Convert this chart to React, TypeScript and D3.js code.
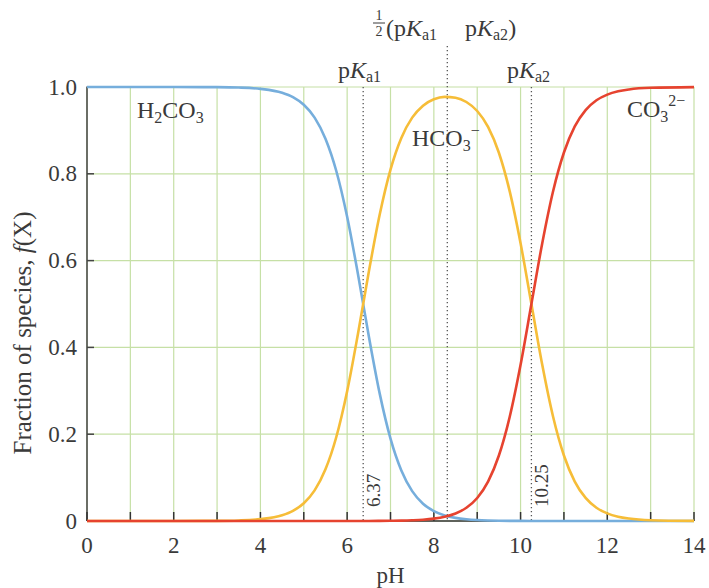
import React from "react";
import * as d3 from "d3";

const pH = [0,1,2,3,3.5,4,4.5,4.75,5,5.25,5.5,5.75,6,6.25,6.5,6.75,7,7.25,7.5,7.75,8,8.25,8.5,8.75,9,9.25,9.5,9.75,10,10.25,10.5,10.75,11,11.25,11.5,11.75,12,12.25,12.5,13,14];
const h2co3 = [1,1,1,0.9996,0.9987,0.9957,0.9867,0.9766,0.959,0.9295,0.881,0.8065,0.701,0.5686,0.4257,0.2941,0.1898,0.1164,0.0689,0.0399,0.0228,0.0129,0.0072,0.004,0.0022,0.0012,0.0006,0.0003,0.0002,0.0001,0,0,0,0,0,0,0,0,0,0,0];
const hco3 = [0,0,0,0.0004,0.0013,0.0043,0.0133,0.0234,0.041,0.0705,0.119,0.1935,0.299,0.4314,0.5742,0.7056,0.8097,0.8827,0.9294,0.957,0.9717,0.9773,0.9754,0.9654,0.9447,0.908,0.8485,0.7595,0.64,0.5,0.3599,0.2403,0.151,0.0909,0.0532,0.0306,0.0175,0.0099,0.0056,0.0018,0.0002];
const co3 = [0,0,0,0,0,0,0,0,0,0,0,0,0,0,0.0001,0.0002,0.0005,0.0009,0.0017,0.003,0.0055,0.0098,0.0173,0.0305,0.0531,0.0908,0.1509,0.2402,0.3599,0.5,0.64,0.7597,0.849,0.9091,0.9468,0.9694,0.9825,0.9901,0.9944,0.9982,0.9998];

const xTickLabels = [0, 2, 4, 6, 8, 10, 12, 14];
const xMinorTicks = d3.range(0, 15, 1);
const yTicks = [0, 0.2, 0.4, 0.6, 0.8, 1.0];
const yTickLabels = ["0", "0.2", "0.4", "0.6", "0.8", "1.0"];
const pKa1 = 6.37;
const pKa2 = 10.25;
const pKmid = 8.31;

const W = 709, H = 588;
const FONT = "'Liberation Serif', 'DejaVu Serif', serif";
const TEXT = "#3a3a3a";

export default function App() {
  const x = d3.scaleLinear().domain([0, 14]).range([87, 694]);
  const y = d3.scaleLinear().domain([0, 1]).range([521, 87]);
  const mk = (vals: number[]) =>
    d3.line<number>().x((_, i) => x(pH[i])).y((d) => y(d)).curve(d3.curveMonotoneX)(vals) || "";

  const grid = "#c6e0a6";
  const F = 24;
  const S = 16;
  return (
    <svg width={W} height={H} style={{ position: "absolute", left: 0, top: 0 }} fontFamily={FONT}>
      <rect width={W} height={H} fill="#fff" />
      {/* grid */}
      {xMinorTicks.map((t) => (
        <line key={"gx" + t} x1={x(t)} x2={x(t)} y1={y(0)} y2={y(1)} stroke={grid} strokeWidth={1.2} />
      ))}
      {yTicks.map((t) => (
        <line key={"gy" + t} x1={x(0)} x2={x(14)} y1={y(t)} y2={y(t)} stroke={grid} strokeWidth={1.2} />
      ))}
      {/* dotted reference lines */}
      {[pKa1, pKa2].map((p) => (
        <line key={"d" + p} x1={x(p)} x2={x(p)} y1={y(1)} y2={y(0)} stroke="#555" strokeWidth={1.3} strokeDasharray="1.3 2.7" />
      ))}
      <line x1={x(pKmid)} x2={x(pKmid)} y1={46} y2={y(0)} stroke="#555" strokeWidth={1.3} strokeDasharray="1.3 2.7" />
      {/* axes */}
      <line x1={x(0)} x2={x(0)} y1={y(1) - 0.5} y2={y(0)} stroke="#444" strokeWidth={1.5} />
      <line x1={x(0)} x2={x(14)} y1={y(0)} y2={y(0)} stroke="#333" strokeWidth={1.5} />
      {yTicks.map((t) => (
        <line key={"ty" + t} x1={x(0)} x2={x(0) + 7} y1={y(t)} y2={y(t)} stroke="#444" strokeWidth={1.5} />
      ))}
      {xMinorTicks.map((t) => (
        <line key={"tx" + t} x1={x(t)} x2={x(t)} y1={y(0)} y2={y(0) - 9} stroke="#333" strokeWidth={1.5} />
      ))}
      {/* curves */}
      <path d={mk(h2co3)} fill="none" stroke="#76aedc" strokeWidth={2.6} />
      <path d={mk(hco3)} fill="none" stroke="#f6bd38" strokeWidth={2.6} />
      <path d={mk(co3)} fill="none" stroke="#e6432f" strokeWidth={2.6} />
      {/* tick labels */}
      {yTicks.map((t, i) => (
        <text key={"yl" + t} x={77} y={y(t)} dy="0.33em" textAnchor="end" fontSize={23} fill={TEXT}>{yTickLabels[i]}</text>
      ))}
      {xTickLabels.map((t) => (
        <text key={"xl" + t} x={x(t)} y={545} dy="0.33em" textAnchor="middle" fontSize={23} fill={TEXT}>{t}</text>
      ))}
      <text x={x(7)} y={583} textAnchor="middle" fontSize={23} fill={TEXT}>pH</text>
      <text transform={`translate(31,333) rotate(-90)`} textAnchor="middle" fontSize={25} fill={TEXT}>
        Fraction of species, <tspan fontStyle="italic">f</tspan>(X)
      </text>
      {/* species labels */}
      <text x={137} y={118} fontSize={F} fill={TEXT}>
        H<tspan fontSize={S} dy={5}>2</tspan><tspan dy={-5}>CO</tspan><tspan fontSize={S} dy={5}>3</tspan>
      </text>
      <text x={412} y={146} fontSize={F} fill={TEXT}>
        HCO<tspan fontSize={S} dy={5}>3</tspan><tspan fontSize={S} dy={-15}>−</tspan>
      </text>
      <text x={627} y={117} fontSize={F} fill={TEXT}>
        CO<tspan fontSize={S} dy={5}>3</tspan><tspan fontSize={S} dy={-16}>2−</tspan>
      </text>
      {/* pKa labels */}
      <text x={338} y={78} fontSize={F} fill={TEXT}>
        p<tspan fontStyle="italic">K</tspan><tspan fontSize={S} dy={4}>a1</tspan>
      </text>
      <text x={507} y={78} fontSize={F} fill={TEXT}>
        p<tspan fontStyle="italic">K</tspan><tspan fontSize={S} dy={4}>a2</tspan>
      </text>
      <text x={379} y={20} fontSize={14} textAnchor="middle" fill={TEXT}>1</text>
      <line x1={373} x2={385} y1={23} y2={23} stroke={TEXT} strokeWidth={1} />
      <text x={379} y={36} fontSize={14} textAnchor="middle" fill={TEXT}>2</text>
      <text x={386} y={36} fontSize={F} fill={TEXT}>
        (p<tspan fontStyle="italic">K</tspan><tspan fontSize={S} dy={4}>a1</tspan>
      </text>
      <text x={465} y={36} fontSize={F} fill={TEXT}>
        p<tspan fontStyle="italic">K</tspan><tspan fontSize={S} dy={4}>a2</tspan><tspan dy={-4}>)</tspan>
      </text>
      {/* rotated value labels */}
      <text transform={`translate(${x(pKa1) + 17},507) rotate(-90)`} fontSize={19} fill={TEXT}>6.37</text>
      <text transform={`translate(${x(pKa2) + 17},507) rotate(-90)`} fontSize={19} fill={TEXT}>10.25</text>
    </svg>
  );
}
